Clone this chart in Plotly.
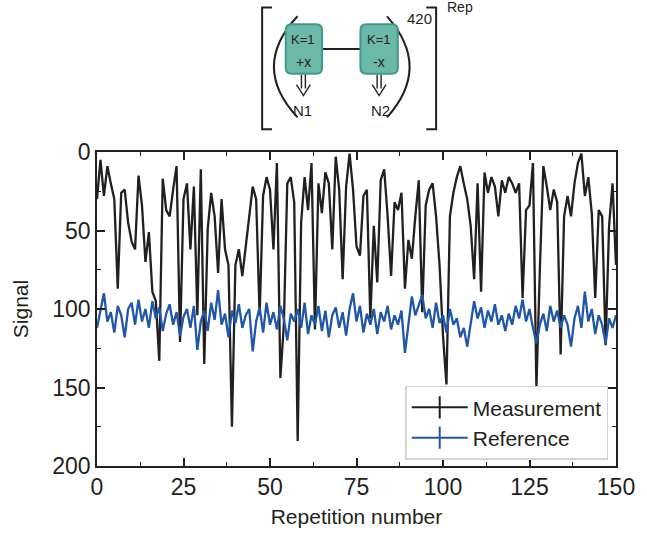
import plotly.graph_objects as go

repetition = list(range(151))

measurement = [
    30, 5, 28, 9, 20, 30, 87, 26, 24, 45,
    57, 62, 15, 34, 70, 51, 89, 95, 133, 17,
    37, 41, 24, 9, 121, 30, 20, 62, 22, 104,
    11, 135, 49, 26, 41, 77, 30, 62, 72, 175,
    72, 62, 79, 60, 41, 22, 30, 104, 28, 16,
    24, 62, 7, 144, 110, 20, 16, 32, 184, 45,
    16, 37, 7, 113, 20, 39, 13, 20, 62, 3,
    24, 81, 22, 1, 24, 60, 66, 28, 24, 106,
    47, 83, 18, 11, 41, 79, 32, 37, 26, 87,
    56, 68, 41, 18, 102, 34, 24, 20, 41, 72,
    117, 148, 41, 26, 16, 9, 20, 30, 47, 81,
    20, 89, 13, 26, 16, 22, 41, 18, 26, 16,
    20, 26, 20, 93, 37, 34, 7, 150, 74, 9,
    22, 37, 24, 32, 129, 41, 28, 41, 20, 7,
    1, 28, 16, 39, 93, 37, 41, 123, 47, 20,
    72,
]

reference = [
    112, 100, 90, 108, 102, 115, 98, 104, 118, 100,
    96, 110, 94, 108, 100, 112, 95, 106, 99, 114,
    103, 97, 110, 102, 117, 105, 100, 112, 98, 126,
    108, 101, 114, 96, 107, 88, 110, 103, 118, 101,
    109, 97, 112, 104, 100, 127, 108, 99, 115, 96,
    110, 102, 113, 98, 106, 120, 103, 108, 100, 112,
    96, 116, 104, 110, 98, 114, 101, 118, 104, 99,
    112, 102, 117, 100, 90, 108, 98, 115, 103, 110,
    100, 116, 102, 108, 98, 113, 104, 110, 101, 128,
    110, 92, 104, 98, 91, 106, 100, 112, 96, 109,
    104, 115, 100, 110, 106, 118, 112, 124, 110, 95,
    106, 99, 112, 101, 108, 97, 110, 104, 114, 103,
    110, 98, 106, 94, 108, 100, 112, 122, 110, 103,
    114, 98, 108, 101, 112, 104, 110, 124, 106, 98,
    112, 89, 108, 100, 116, 104, 110, 122, 106, 112,
    104,
]

x_ticks = [0, 25, 50, 75, 100, 125, 150]
y_ticks = [0, 50, 100, 150, 200]

BLACK = "#231f20"
BLUE = "#2157a6"
FONT = "Liberation Sans, Arial, sans-serif"

fig = go.Figure()
fig.add_trace(go.Scatter(x=repetition, y=measurement, mode="lines",
                         line=dict(color=BLACK, width=2.3), showlegend=False))
fig.add_trace(go.Scatter(x=repetition, y=reference, mode="lines",
                         line=dict(color=BLUE, width=2.3), showlegend=False))
# legend entries (line with errorbar tick)
for name, col in [("Measurement", BLACK), ("Reference", BLUE)]:
    fig.add_trace(go.Scatter(x=[None], y=[None], mode="lines+markers", name=name,
                             line=dict(color=col, width=2),
                             marker=dict(symbol="line-ns-open", size=16,
                                         line=dict(color=col, width=2))))

# ---- schematic at top (pixel layout -> paper coords) ----
L, R, T, B = 97, 625, 152, 469
W, H = R - L, B - T


def px(x):
    return (x - L) / W


def py(y):
    return (B - y) / H


def P(x, y):
    return f"{px(x):.5f},{py(y):.5f}"


shapes = []


def path(d, color="#231f20", width=2, fill=None):
    s = dict(type="path", xref="paper", yref="paper", path=d,
             line=dict(color=color, width=width), layer="above")
    if fill:
        s["fillcolor"] = fill
    shapes.append(s)


# square brackets
path(f"M {P(275,6)} L {P(265,6)} L {P(265,129)} L {P(275,129)}")
path(f"M {P(432,6)} L {P(442,6)} L {P(442,129)} L {P(432,129)}")
# parentheses
path(f"M {P(301,15)} Q {P(253,66)} {P(301,117)}")
path(f"M {P(392,15)} Q {P(438,66)} {P(392,117)}")
# connecting line
path(f"M {P(326,48)} L {P(365,48)}", width=1.8)


def rbox(x0, y0, x1, y1, r=6):
    d = (f"M {P(x0+r,y0)} L {P(x1-r,y0)} Q {P(x1,y0)} {P(x1,y0+r)} "
         f"L {P(x1,y1-r)} Q {P(x1,y1)} {P(x1-r,y1)} L {P(x0+r,y1)} "
         f"Q {P(x0,y1)} {P(x0,y1-r)} L {P(x0,y0+r)} Q {P(x0,y0)} {P(x0+r,y0)} Z")
    path(d, color="#3f9a8b", width=2, fill="#6cb8aa")


rbox(289, 23, 326, 73)
rbox(365, 23, 403, 73)


def darrow(x):
    path(f"M {P(x-2,74)} L {P(x-2,88)} M {P(x+2,74)} L {P(x+2,88)} "
         f"M {P(x-7,84)} L {P(x,95)} L {P(x+7,84)}", width=1.4)


darrow(307)
darrow(384)

annotations = []


def txt(x, y, s, size=13, color="#231f20"):
    annotations.append(dict(x=px(x), y=py(y), xref="paper", yref="paper", text=s,
                            showarrow=False, font=dict(family=FONT, size=size, color=color),
                            xanchor="center", yanchor="middle"))


txt(307, 38, "K=1", 13)
txt(307, 61, "+x", 14)
txt(384, 38, "K=1", 13)
txt(384, 61, "-x", 14)
txt(306, 110, "N1", 15)
txt(385, 110, "N2", 15)
txt(425, 17, "420", 15)
txt(466, 6, "Rep", 14)

axis_common = dict(
    showline=True, linecolor=BLACK, linewidth=1.5, mirror="allticks",
    ticks="inside", ticklen=8, tickwidth=1.5, tickcolor=BLACK,
    showgrid=False, zeroline=False,
    tickfont=dict(family=FONT, size=23, color=BLACK),
)

fig.update_layout(
    width=647, height=537,
    margin=dict(l=L, r=647 - R, t=T, b=537 - B),
    paper_bgcolor="white", plot_bgcolor="white",
    font=dict(family=FONT, color=BLACK),
    shapes=shapes, annotations=annotations,
    xaxis=dict(range=[0, 150], tickvals=x_ticks,
               minor=dict(dtick=12.5, ticks="inside", ticklen=4, tickwidth=1.2, tickcolor=BLACK),
               title=dict(text="Repetition number", font=dict(family=FONT, size=21, color=BLACK), standoff=10),
               **axis_common),
    yaxis=dict(range=[200, 0], tickvals=y_ticks,
               minor=dict(dtick=25, ticks="inside", ticklen=4, tickwidth=1.2, tickcolor=BLACK),
               title=dict(text="Signal", font=dict(family=FONT, size=21, color=BLACK), standoff=18),
               **axis_common),
    legend=dict(x=0.985, y=0.02, xanchor="right", yanchor="bottom",
                bgcolor="rgba(255,255,255,0.85)", bordercolor="#d4d4d4", borderwidth=1.5,
                font=dict(family=FONT, size=21, color=BLACK), itemwidth=56,
                tracegroupgap=0),
)

fig.write_html("out.html")
